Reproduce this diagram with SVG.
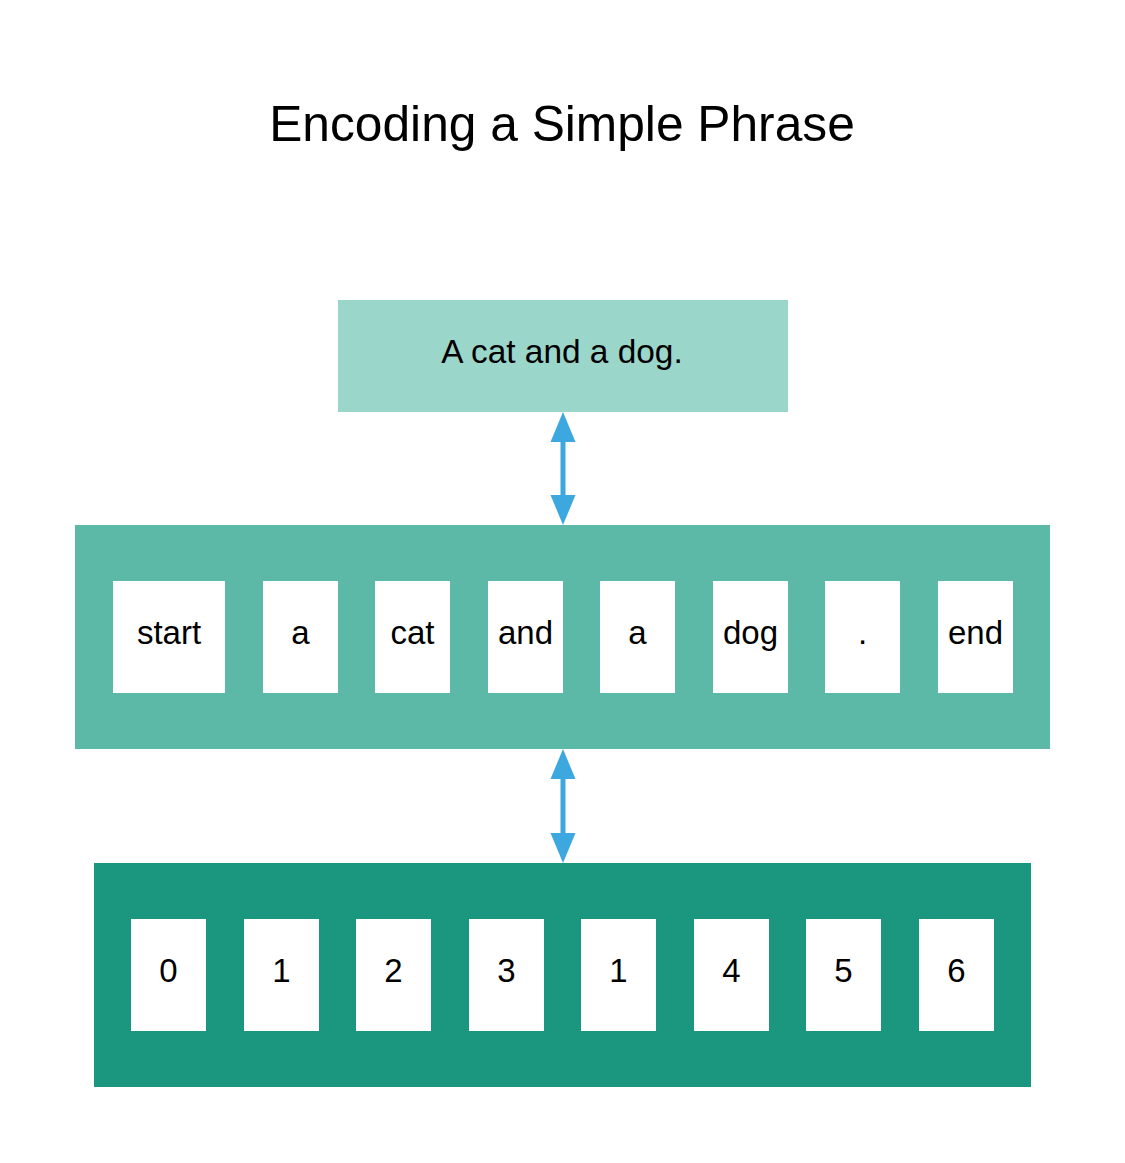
<svg xmlns="http://www.w3.org/2000/svg" width="1125" height="1163" viewBox="0 0 1125 1163">
<style>
text{font-family:"Liberation Sans",Arial,sans-serif;fill:#000;text-anchor:middle}
.t{font-size:49.7px}
.l{font-size:33px}
.p{font-size:33.4px}
.cell{fill:#fff}
.conn{stroke:#3DA8E0;stroke-width:5;fill:none}
.head{fill:#3DA8E0}
</style>
<rect width="1125" height="1163" fill="#fff"/>
<text class="t" x="562" y="141">Encoding a Simple Phrase</text>
<g id="phrase">
<rect x="338" y="300" width="450" height="112" fill="#9BD6CB"/>
<text class="p" x="562" y="363">A cat and a dog.</text>
</g>
<g id="tokens">
<rect x="75" y="525" width="975" height="224" fill="#5CB9A7"/>
<g id="tok-start"><rect class="cell" x="113" y="581" width="112" height="112"/><text class="l" x="169" y="644">start</text></g>
<g id="tok-a1"><rect class="cell" x="263" y="581" width="75" height="112"/><text class="l" x="300.5" y="644">a</text></g>
<g id="tok-cat"><rect class="cell" x="375" y="581" width="75" height="112"/><text class="l" x="412.5" y="644">cat</text></g>
<g id="tok-and"><rect class="cell" x="488" y="581" width="75" height="112"/><text class="l" x="525.5" y="644">and</text></g>
<g id="tok-a2"><rect class="cell" x="600" y="581" width="75" height="112"/><text class="l" x="637.5" y="644">a</text></g>
<g id="tok-dog"><rect class="cell" x="713" y="581" width="75" height="112"/><text class="l" x="750.5" y="644">dog</text></g>
<g id="tok-dot"><rect class="cell" x="825" y="581" width="75" height="112"/><text class="l" x="862.5" y="644">.</text></g>
<g id="tok-end"><rect class="cell" x="938" y="581" width="75" height="112"/><text class="l" x="975.5" y="644">end</text></g>
</g>
<g id="ids">
<rect x="94" y="863" width="937" height="224" fill="#1B967F"/>
<g id="id-0"><rect class="cell" x="131" y="919" width="75" height="112"/><text class="l" x="168.5" y="982">0</text></g>
<g id="id-1"><rect class="cell" x="244" y="919" width="75" height="112"/><text class="l" x="281.5" y="982">1</text></g>
<g id="id-2"><rect class="cell" x="356" y="919" width="75" height="112"/><text class="l" x="393.5" y="982">2</text></g>
<g id="id-3"><rect class="cell" x="469" y="919" width="75" height="112"/><text class="l" x="506.5" y="982">3</text></g>
<g id="id-4"><rect class="cell" x="581" y="919" width="75" height="112"/><text class="l" x="618.5" y="982">1</text></g>
<g id="id-5"><rect class="cell" x="694" y="919" width="75" height="112"/><text class="l" x="731.5" y="982">4</text></g>
<g id="id-6"><rect class="cell" x="806" y="919" width="75" height="112"/><text class="l" x="843.5" y="982">5</text></g>
<g id="id-7"><rect class="cell" x="919" y="919" width="75" height="112"/><text class="l" x="956.5" y="982">6</text></g>
</g>
<g id="connectors">
<line class="conn" x1="563" y1="440" x2="563" y2="497"/>
<polygon class="head" points="563,412 575.5,442 550.5,442"/>
<polygon class="head" points="563,525 575.5,495 550.5,495"/>
<line class="conn" x1="563" y1="777" x2="563" y2="835"/>
<polygon class="head" points="563,749 575.5,779 550.5,779"/>
<polygon class="head" points="563,863 575.5,833 550.5,833"/>
</g>
</svg>
